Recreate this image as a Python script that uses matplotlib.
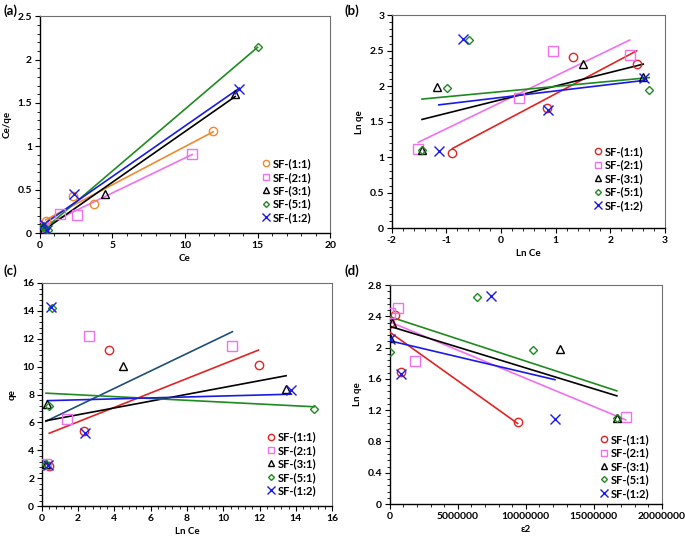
import numpy as np
import matplotlib
matplotlib.use('Agg')
import matplotlib.pyplot as plt
from matplotlib.ticker import MultipleLocator, FuncFormatter

plt.rcParams['font.family'] = ['Lato', 'DejaVu Sans']
plt.rcParams['font.weight'] = 'bold'
plt.rcParams['axes.labelweight'] = 'bold'
plt.rcParams['xtick.direction'] = 'out'
plt.rcParams['ytick.direction'] = 'out'

labels = ['SF-(1:1)', 'SF-(2:1)', 'SF-(3:1)', 'SF-(5:1)', 'SF-(1:2)']

# Ce [mg/L], qe [mg/g], eps^2
ce_11 = [0.41, 2.30, 3.72, 11.94]
qe_11 = [2.87, 5.40, 11.19, 10.10]
eps_11 = [9.40e6, 0.81e6, 0.40e6, 0.04e6]

ce_21 = [0.22, 1.38, 2.59, 10.50]
qe_21 = [3.03, 6.23, 12.20, 11.50]
eps_21 = [17.35e6, 1.89e6, 0.64e6, 0.02e6]

ce_31 = [0.235, 0.31, 4.48, 13.46]
qe_31 = [3.00, 7.30, 10.07, 8.41]
eps_31 = [16.70e6, 12.50e6, 0.20e6, 0.03e6]

ce_51 = [0.235, 0.37, 0.56, 15.00]
qe_51 = [3.00, 7.20, 14.20, 7.00]
eps_51 = [16.70e6, 10.55e6, 6.38e6, 0.01e6]

ce_12 = [0.32, 0.50, 2.36, 13.75]
qe_12 = [2.95, 14.30, 5.25, 8.30]
eps_12 = [12.15e6, 7.41e6, 0.79e6, 0.04e6]

ce_all = [ce_11, ce_21, ce_31, ce_51, ce_12]
qe_all = [qe_11, qe_21, qe_31, qe_51, qe_12]
eps_all = [eps_11, eps_21, eps_31, eps_51, eps_12]

markers = ['o', 's', '^', 'D', 'x']
msizes = [6, 6.5, 5.5, 4, 7]
green = '#1F8A1F'
pink = '#F070F0'
blue = '#1A1AE6'
red = '#E02424'
orange = '#F08A30'

fig = plt.figure(figsize=(6.85, 5.42), dpi=100)

def panel(rect, xs, ys, mcols, lcols, xlim, ylim, xmaj, xmin_, ymaj, ymin_,
          xlabel, ylabel, leg_xy, fmt_x=None):
    ax = fig.add_axes(rect)
    # linear trendlines over each series' data range
    for i in range(5):
        x = np.array(xs[i])
        y = np.array(ys[i])
        k, b = np.polyfit(x, y, 1)
        xx = np.array([x.min(), x.max()])
        ax.plot(xx, k * xx + b, color=lcols[i], lw=1.2, zorder=3)
    for i in range(5):
        ax.plot(xs[i], ys[i], linestyle='none', marker=markers[i],
                ms=msizes[i], mfc='none', mec=mcols[i], mew=1.0,
                label=labels[i], zorder=4)
    ax.set_xlim(xlim)
    ax.set_ylim(ylim)
    ax.xaxis.set_major_locator(MultipleLocator(xmaj))
    ax.xaxis.set_minor_locator(MultipleLocator(xmin_))
    ax.yaxis.set_major_locator(MultipleLocator(ymaj))
    ax.yaxis.set_minor_locator(MultipleLocator(ymin_))
    ax.yaxis.set_major_formatter(FuncFormatter(lambda v, p: f'{v:g}'))
    if fmt_x is None:
        ax.xaxis.set_major_formatter(FuncFormatter(lambda v, p: f'{v:g}'))
    else:
        ax.xaxis.set_major_formatter(FuncFormatter(fmt_x))
    ax.tick_params(which='major', length=3.5, width=0.8, labelsize=7.5, pad=2)
    ax.tick_params(which='minor', length=2, width=0.6)
    for s in ['top', 'right']:
        ax.spines[s].set_color('#707070')
        ax.spines[s].set_linewidth(0.8)
    for s in ['left', 'bottom']:
        ax.spines[s].set_linewidth(1.0)
    for t in ax.get_xticklabels() + ax.get_yticklabels():
        t.set_fontweight('bold')
    ax.set_xlabel(xlabel, fontsize=7, labelpad=3)
    ax.set_ylabel(ylabel, fontsize=7, labelpad=4)
    ax.legend(loc='upper left', bbox_to_anchor=leg_xy, frameon=False,
              handlelength=0.7, handletextpad=0.25, markerscale=0.75,
              labelspacing=0.22, borderpad=0, borderaxespad=0,
              prop={'weight': 'bold', 'size': 8})
    return ax

cols_a = [orange, pink, 'black', green, blue]
cols_r = [red, pink, 'black', green, blue]

# (a) Langmuir
ya = [list(np.array(c) / np.array(q)) for c, q in zip(ce_all, qe_all)]
panel([0.058, 0.570, 0.424, 0.400], ce_all, ya, cols_a, cols_a,
      (0, 20), (0, 2.5), 5, 1, 0.5, 0.1, 'Ce', 'Ce/qe', (0.765, 0.345))

# (b) Freundlich
xb = [list(np.log(c)) for c in ce_all]
yb = [list(np.log(q)) for q in qe_all]
panel([0.572, 0.579, 0.399, 0.393], xb, yb, cols_r, cols_r,
      (-2, 3), (0, 3), 1, 0.2, 0.5, 0.1, 'Ln Ce', 'Ln qe', (0.74, 0.385))

# (c) Temkin
panel([0.061, 0.066, 0.424, 0.412], ce_all, qe_all, cols_r,
      [red, '#1F4E79', 'black', green, blue],
      (0, 16), (0, 16), 2, 0.4, 2, 0.4, 'Ln Ce', 'qe', (0.775, 0.335))

# (d) D-R
yd = [list(np.log(q)) for q in qe_all]
panel([0.569, 0.070, 0.397, 0.404], eps_all, yd, cols_r, cols_r,
      (0, 2e7), (0, 2.8), 5e6, 1e6, 0.4, 0.08, 'ε2', 'Ln qe', (0.775, 0.32),
      fmt_x=lambda v, p: f'{int(round(v))}')

fig.text(0.005, 0.992, '(a)', fontsize=9.5, fontweight='bold', va='top')
fig.text(0.503, 0.992, '(b)', fontsize=9.5, fontweight='bold', va='top')
fig.text(0.005, 0.513, '(c)', fontsize=9.5, fontweight='bold', va='top')
fig.text(0.503, 0.513, '(d)', fontsize=9.5, fontweight='bold', va='top')

fig.savefig('out.png', dpi=100)
